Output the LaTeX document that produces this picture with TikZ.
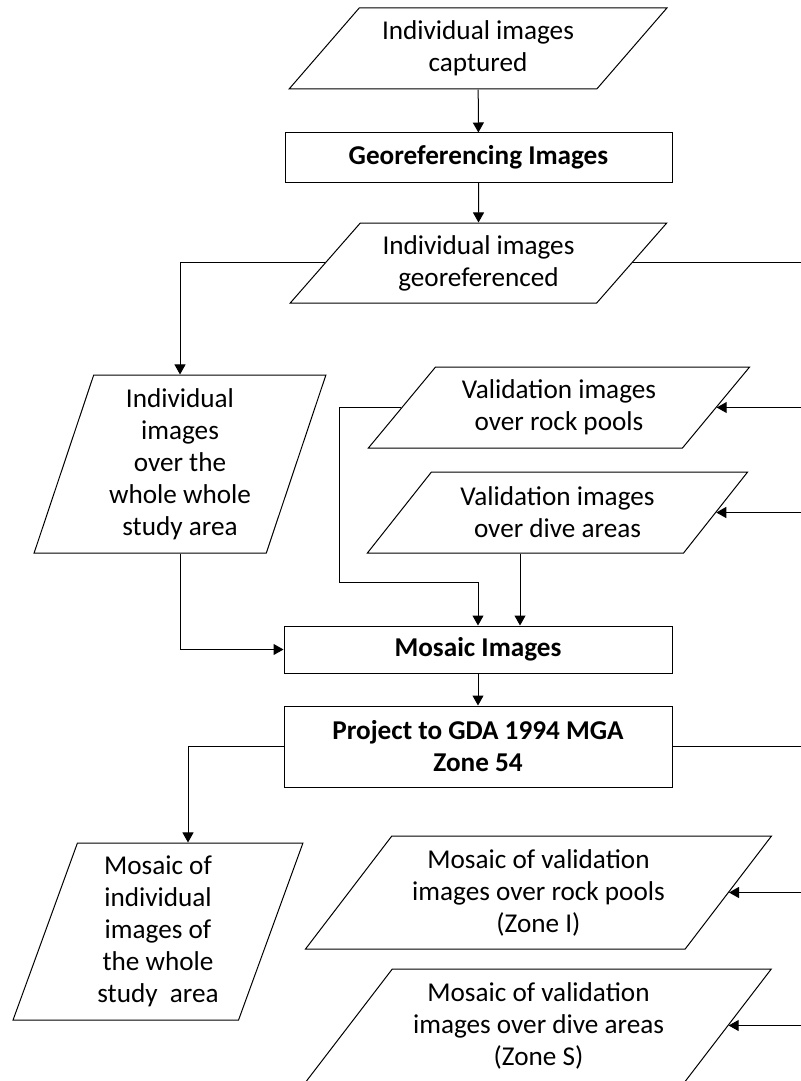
\documentclass[tikz,border=0pt]{standalone}
\usepackage{fontspec}
\setmainfont{Carlito}
\usepackage{tikz}
\usetikzlibrary{calc, shapes.geometric, positioning, arrows.meta}

\tikzset{
  base/.style={draw, line width=0.5pt, align=center, inner sep=2pt,
    font=\fontsize{13.6}{16}\selectfont},
  procbox/.style={base, rectangle, font=\fontsize{13.6}{16}\selectfont\bfseries},
  datapara/.style={base, trapezium, trapezium stretches=true,
    trapezium left angle=#1, trapezium right angle={180-#1}},
  datapara/.default=47
}

\begin{document}
\begin{tikzpicture}[>={Triangle[length=5pt,width=5.5pt]}, x=0.5pt, y=-0.5pt, line width=0.5pt]
    \useasboundingbox (0,0) rectangle (800,1081);

    % Bước chính
    \node[datapara=47, minimum width=189pt, minimum height=40.5pt] (cap) at (478,48.5) {Individual images\\captured};
    \node[procbox, minimum width=193.5pt, minimum height=24.5pt] (geo) at (478.5,157.5) {Georeferencing Images};
    \node[datapara=47, minimum width=188.5pt, minimum height=40pt] (geoimg) at (478.5,263) {Individual images\\georeferenced};
    \node[datapara=72, minimum width=146pt, minimum height=89pt] (whole) at (180,464) {Individual\\images\\over the\\whole whole\\study area};
    \node[datapara=49, minimum width=191pt, minimum height=40.5pt] (valrock) at (559,407.5) {Validation images\\over rock pools};
    \node[datapara=49, minimum width=190.5pt, minimum height=40.5pt] (valdive) at (557.5,512.5) {Validation images\\over dive areas};
    \node[procbox, minimum width=194pt, minimum height=23.5pt] (mos) at (478,649.5) {Mosaic Images};
    \node[procbox, minimum width=194pt, minimum height=40.5pt] (proj) at (478,746.5) {Project to GDA 1994 MGA\\Zone 54};

    % Kết quả
    \node[datapara=72, minimum width=145pt, minimum height=88.5pt] (moswhole) at (158,931.5) {Mosaic of\\individual\\images of\\the whole\\study\ \ area};
    \node[datapara=51, minimum width=233.5pt, minimum height=56.5pt] (mosrock) at (538.5,892.5) {Mosaic of validation\\images over rock pools\\(Zone I)};
    \node[datapara=51, minimum width=233.5pt, minimum height=56.5pt] (mosdive) at (538.5,1025.5) {Mosaic of validation\\images over dive areas\\(Zone S)};

    \coordinate (rbus) at (830,0);
    \coordinate (rockjoin) at (339,582);
    \coordinate (dive) at ([xshift=-18.75pt]valdive.south);

    % Mũi tên
    \draw[->] (cap) -- (geo);
    \draw[->] (geo) -- (geoimg);
    \draw[->] (geoimg.west) -| (whole.north);
    \draw (geoimg.east) -- (geoimg.east -| rbus);
    \draw[->] (geoimg.east -| rbus) |- (valrock.east);
    \draw[->] (geoimg.east -| rbus) |- (valdive.east);
    \draw[->] (whole.south) |- (mos.west);
    \draw[->] (valrock.west) -| (rockjoin) -| (mos.north);
    \draw[->] (dive) -- (dive |- mos.north);
    \draw[->] (mos) -- (proj);
    \draw[->] (proj.west) -| ([xshift=15pt]moswhole.north);
    \draw (proj.east) -- (proj.east -| rbus);
    \draw[->] (proj.east -| rbus) |- (mosrock.east);
    \draw[->] (proj.east -| rbus) |- (mosdive.east);
\end{tikzpicture}
\end{document}
